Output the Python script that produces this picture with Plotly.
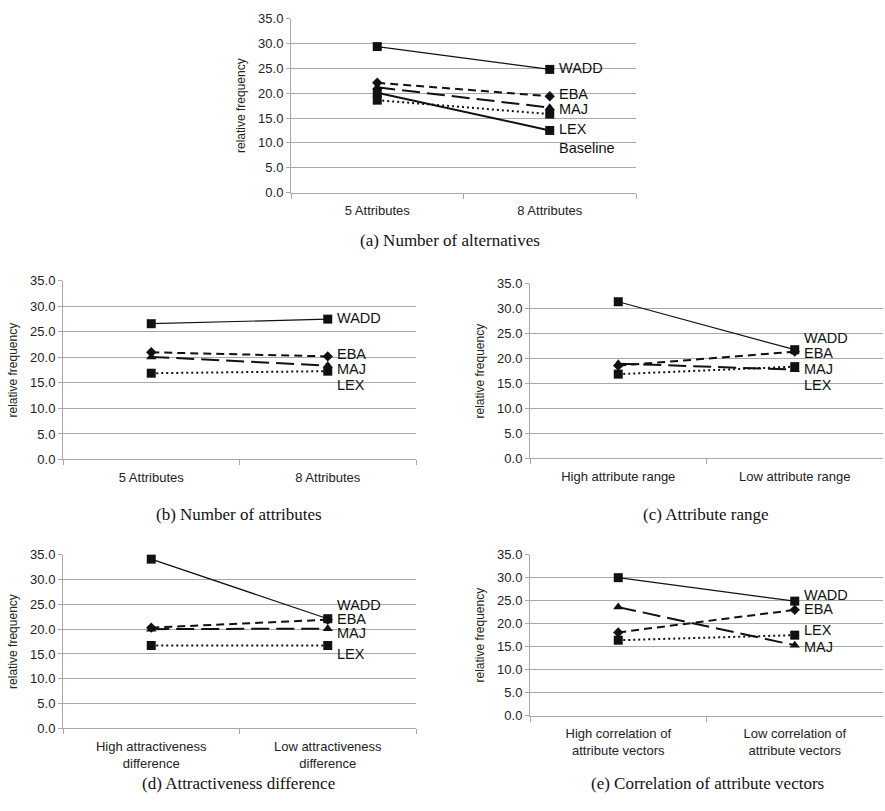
import plotly.graph_objects as go

# ---- data -------------------------------------------------------------
cats_a = ["5 Attributes", "8 Attributes"]
cats_b = ["5 Attributes", "8 Attributes"]
cats_c = ["High attribute range", "Low attribute range"]
cats_d = ["High attractiveness<br>difference", "Low attractiveness<br>difference"]
cats_e = ["High correlation of<br>attribute vectors", "Low correlation of<br>attribute vectors"]

wadd_a = [29.4, 24.8]
eba_a = [22.1, 19.4]
maj_a = [21.2, 17.1]
lex_a = [18.6, 15.8]
baseline_a = [20.1, 12.5]

wadd_b = [26.6, 27.5]
eba_b = [21.0, 20.2]
maj_b = [20.1, 18.4]
lex_b = [16.9, 17.3]

wadd_c = [31.4, 21.8]
eba_c = [18.6, 21.4]
maj_c = [19.0, 17.8]
lex_c = [16.9, 18.4]

wadd_d = [34.1, 22.1]
eba_d = [20.3, 21.9]
maj_d = [20.0, 20.1]
lex_d = [16.7, 16.7]

wadd_e = [30.0, 24.9]
eba_e = [18.1, 23.0]
maj_e = [23.6, 15.3]
lex_e = [16.4, 17.5]

panel_titles = ["(a) Number of alternatives", "(b) Number of attributes",
                "(c) Attribute range", "(d) Attractiveness difference",
                "(e) Correlation of attribute vectors"]

# ---- styling ----------------------------------------------------------
W, H = 885, 811
INK = "#111111"
GRID = "#a9a9a9"
SANS = "Liberation Sans, Arial, sans-serif"
SERIF = "Liberation Serif, Times New Roman, serif"

styles = {
    "WADD": dict(line=dict(color=INK, width=1.2), marker=dict(symbol="square", size=9)),
    "EBA": dict(line=dict(color=INK, width=2, dash="8px,5px"), marker=dict(symbol="diamond", size=8)),
    "MAJ": dict(line=dict(color=INK, width=2, dash="18px,7px"), marker=dict(symbol="triangle-up", size=9)),
    "LEX": dict(line=dict(color=INK, width=2, dash="2px,3px"), marker=dict(symbol="square", size=9)),
    "Baseline": dict(line=dict(color=INK, width=2), marker=dict(symbol="square", size=9)),
}

# plot-area boxes in pixels: (left, right, top, bottom)
boxes = [
    (291, 636, 12, 189),
    (63, 416, 279, 461),
    (530, 883, 282, 460),
    (63, 416, 558, 735),
    (530, 883, 558, 722),
]

panels = [
    (cats_a, {"WADD": wadd_a, "EBA": eba_a, "MAJ": maj_a, "LEX": lex_a, "Baseline": baseline_a}),
    (cats_b, {"WADD": wadd_b, "EBA": eba_b, "MAJ": maj_b, "LEX": lex_b}),
    (cats_c, {"WADD": wadd_c, "EBA": eba_c, "MAJ": maj_c, "LEX": lex_c}),
    (cats_d, {"WADD": wadd_d, "EBA": eba_d, "MAJ": maj_d, "LEX": lex_d}),
    (cats_e, {"WADD": wadd_e, "EBA": eba_e, "MAJ": maj_e, "LEX": lex_e}),
]

# vertical placement of the end-of-line series names (in axis units)
name_pos = [
    {"WADD": 25.0, "EBA": 19.9, "MAJ": 16.8, "LEX": 12.7, "Baseline": 8.9},
    {"WADD": 27.8, "EBA": 20.6, "MAJ": 17.8, "LEX": 14.6},
    {"WADD": 24.1, "EBA": 21.1, "MAJ": 18.0, "LEX": 14.7},
    {"WADD": 24.9, "EBA": 22.1, "MAJ": 19.3, "LEX": 14.9},
    {"WADD": 26.2, "EBA": 23.1, "LEX": 18.6, "MAJ": 15.0},
]

# title centres in pixels
title_xy = [(450, 238), (239, 517), (706, 517), (238, 791), (707, 791)]

fig = go.Figure()
annotations = []
layout = {}

for i, ((cats, series), box) in enumerate(zip(panels, boxes)):
    n = "" if i == 0 else str(i + 1)
    xa, ya = "x" + n, "y" + n
    left, right, top, bottom = box
    layout["xaxis" + n] = dict(
        domain=[left / W, right / W], anchor=ya, type="category",
        categoryorder="array", categoryarray=cats, range=[-0.5, 1.5],
        showline=True, linecolor=GRID, linewidth=1, showgrid=False,
        ticks="outside", tickson="boundaries", ticklen=5, tickcolor=GRID,
        ticklabelstandoff=6,
        tickfont=dict(family=SANS, size=13, color="#222222"), fixedrange=True,
    )
    layout["yaxis" + n] = dict(
        domain=[1 - bottom / H, 1 - top / H], anchor=xa, range=[0, 35],
        dtick=5, tick0=0, tickformat=".1f",
        showline=True, linecolor=GRID, linewidth=1,
        showgrid=True, gridcolor=GRID, gridwidth=1, zeroline=False,
        ticks="outside", ticklen=4, tickcolor=GRID,
        tickfont=dict(family=SANS, size=13, color="#222222"),
        title=dict(text="relative frequency", font=dict(family=SANS, size=12, color="#222222"),
                   standoff=9),
        fixedrange=True,
    )
    for name, vals in series.items():
        st = styles[name]
        fig.add_trace(go.Scatter(
            x=cats, y=vals, mode="lines+markers", name=name, showlegend=False,
            line=st["line"], marker=dict(color=INK, **st["marker"]),
            xaxis=xa, yaxis=ya, cliponaxis=False,
        ))
    for name, yv in name_pos[i].items():
        annotations.append(dict(
            x=cats[1], y=yv, xref=xa, yref=ya, text=name, showarrow=False,
            xanchor="left", yanchor="middle", xshift=8, borderpad=0,
            font=dict(family=SANS, size=14.5, color=INK),
        ))
    tx, ty = title_xy[i]
    annotations.append(dict(
        x=tx / W, y=1 - ty / H, xref="paper", yref="paper", text=panel_titles[i],
        showarrow=False, xanchor="center", yanchor="middle",
        font=dict(family=SERIF, size=17, color=INK),
    ))

fig.update_layout(
    width=W, height=H, margin=dict(l=0, r=0, t=0, b=0),
    paper_bgcolor="white", plot_bgcolor="white",
    annotations=annotations, showlegend=False, **layout,
)

fig.write_html("out.html", config={"displayModeBar": False})
